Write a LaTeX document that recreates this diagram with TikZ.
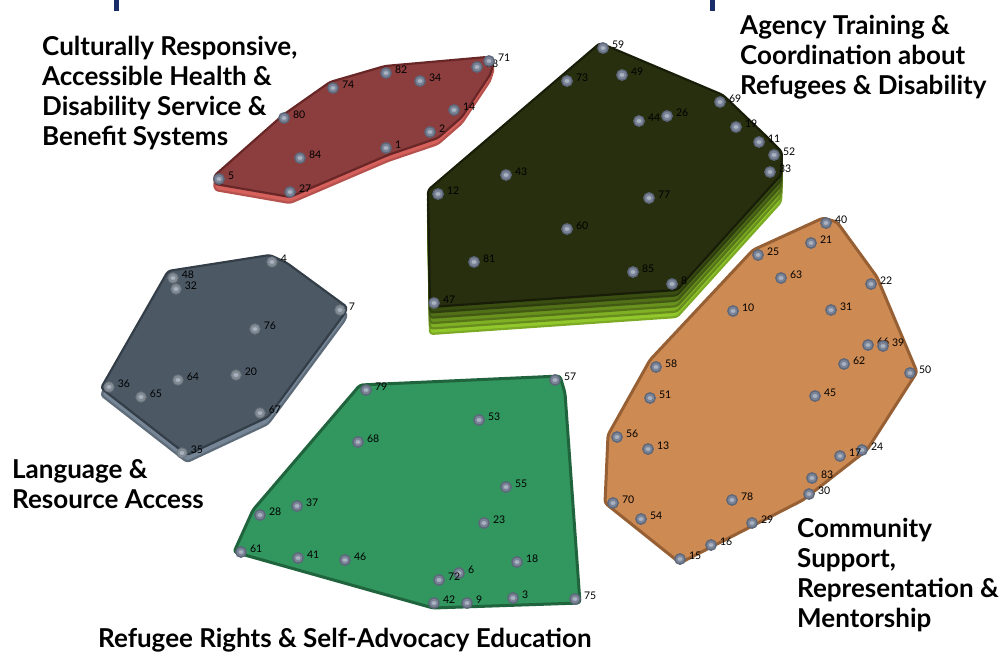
\documentclass[tikz,border=0pt]{standalone}
\usepackage{fontspec}
\setmainfont{Lato}
\definecolor{navy}{RGB}{25,45,105}
\definecolor{redface}{RGB}{140,62,62}
\definecolor{redside}{RGB}{214,96,92}
\definecolor{redline}{RGB}{105,38,38}
\definecolor{oliveface}{RGB}{40,47,14}
\definecolor{oliveline}{RGB}{24,29,8}
\definecolor{oliveA}{RGB}{58,78,18}
\definecolor{oliveB}{RGB}{82,112,24}
\definecolor{oliveC}{RGB}{106,146,30}
\definecolor{oliveD}{RGB}{128,176,36}
\definecolor{oliveE}{RGB}{146,200,44}
\definecolor{grayface}{RGB}{76,89,101}
\definecolor{grayside}{RGB}{118,134,150}
\definecolor{grayline}{RGB}{52,62,72}
\definecolor{greenface}{RGB}{50,150,95}
\definecolor{greenline}{RGB}{32,100,62}
\definecolor{orangeface}{RGB}{205,138,82}
\definecolor{orangeline}{RGB}{150,96,52}
\definecolor{dotfill}{RGB}{122,132,150}
\definecolor{dotring}{RGB}{92,102,120}
\definecolor{dotcore}{RGB}{168,178,192}
\tikzset{
  face/.style={line width=2.2pt, line join=round, rounded corners=3pt},
  dot/.style={circle, minimum size=10.5pt, inner sep=0pt, fill=dotfill, draw=dotring, line width=1.3pt,
    path picture={\fill[dotcore] (path picture bounding box.center) ellipse (2.5pt and 1.9pt);}},
  dotfaint/.style={dot, fill=grayface!70!white, draw=grayface!85!white, line width=0.8pt},
  lbl/.style={font=\fontsize{10.5}{11}\selectfont, inner sep=0.5pt, yshift=3pt},
  title/.style={font=\bfseries\fontsize{26}{30}\selectfont, align=left, inner sep=0pt, anchor=base west}
}
% a numbered statement: name, x, y
\newcommand\spot[4][dot]{\node[#1, label={[lbl]0:#2}] (p#2) at (#3,#4) {};}
\begin{document}
\begin{tikzpicture}[x=1pt, y=-1pt, label distance=2.5pt]
\useasboundingbox (0,0) rectangle (1007,656);
\fill[white] (0,0) rectangle (1007,656);

% header ticks
\fill[navy] (114,0) rectangle (119,11);
\fill[navy] (710,0) rectangle (715,11);

% ---------- shapes ----------
\def\redshape{(214,176) -- (283,115) -- (330,82) -- (385,66) -- (487,57) -- (494,62) -- (490,75) -- (462,117) -- (438,138) -- (388,155) -- (290,197) -- (215,184) -- cycle}
\def\oliveshape{(600,43) -- (723,95) -- (765,135) -- (782,152) -- (781,175) -- (677,290) -- (430,307) -- (428,190) -- cycle}
\def\grayshape{(168,271) -- (270,255) -- (287,263) -- (347,307) -- (345,313) -- (268,417) -- (187,455) -- (101,388) -- cycle}
\def\greenshape{(360,385) -- (560,376) -- (565,393) -- (580,603) -- (433,608) -- (234,552) -- (253,510) -- cycle}
\def\orangeshape{(823,218) -- (837,222) -- (877,277) -- (917,372) -- (867,450) -- (803,500) -- (680,563) -- (605,503) -- (608,435) -- (650,360) -- (753,250) -- cycle}

% red cluster: lighter side under the top face
\filldraw[face, fill=redside, draw=redside!85!black, shift={(0,6)}] \redshape;
\filldraw[face, fill=redface, draw=redline] \redshape;

% olive cluster: stacked layers
\filldraw[face, fill=oliveE, draw=oliveE!85!black, shift={(0,27)}] \oliveshape;
\filldraw[face, fill=oliveD, draw=oliveD!80!black, shift={(0,21.6)}] \oliveshape;
\filldraw[face, fill=oliveC, draw=oliveC!80!black, shift={(0,16.2)}] \oliveshape;
\filldraw[face, fill=oliveB, draw=oliveB!80!black, shift={(0,10.8)}] \oliveshape;
\filldraw[face, fill=oliveA, draw=oliveA!80!black, shift={(0,5.4)}] \oliveshape;
\filldraw[face, fill=oliveface, draw=oliveline] \oliveshape;

% gray cluster
\filldraw[face, fill=grayside, draw=grayside!80!black, shift={(0,7)}] \grayshape;
\filldraw[face, fill=grayface, draw=grayline] \grayshape;

% green cluster
\filldraw[face, line width=3pt, fill=greenface, draw=greenline] \greenshape;

% orange cluster
\filldraw[face, line width=3pt, fill=orangeface, draw=orangeline] \orangeshape;

% ---------- statements ----------
% red
\spot{38}{477}{67}
\spot{71}{489}{61}
\spot{82}{386}{73}
\spot{34}{420}{81}
\spot{74}{333}{88}
\spot{80}{284}{118}
\spot{14}{454}{110}
\spot{2}{430}{132}
\spot{1}{386}{148}
\spot{84}{300}{158}
\spot{5}{219}{179}
\spot{27}{290}{192}

% olive
\spot{59}{603}{48}
\spot{73}{567}{81}
\spot{49}{622}{75}
\spot{69}{720}{102}
\spot{44}{639}{121}
\spot{26}{667}{116}
\spot{19}{736}{127}
\spot{11}{759}{142}
\spot{52}{774}{155}
\spot{33}{770}{172}
\spot{43}{506}{175}
\spot{12}{438}{194}
\spot{77}{649}{198}
\spot{60}{567}{229}
\spot{81}{474}{262}
\spot{85}{633}{272}
\spot{8}{672}{284}
\spot{47}{434}{303}

% gray
\spot[dotfaint]{4}{272}{262}
\spot[dotfaint]{48}{173}{278}
\spot[dotfaint]{32}{176}{289}
\spot[dotfaint]{7}{340}{310}
\spot[dotfaint]{76}{255}{329}
\spot[dotfaint]{20}{236}{375}
\spot[dotfaint]{64}{178}{380}
\spot[dotfaint]{36}{109}{387}
\spot[dotfaint]{65}{141}{397}
\spot[dotfaint]{67}{260}{413}
\spot[dotfaint]{35}{182}{453}

% green
\spot{57}{555}{380}
\spot{79}{366}{390}
\spot{53}{479}{420}
\spot{68}{358}{442}
\spot{55}{506}{487}
\spot{37}{297}{506}
\spot{28}{260}{515}
\spot{23}{484}{523}
\spot{61}{241}{552}
\spot{41}{298}{558}
\spot{46}{345}{560}
\spot{18}{517}{562}
\spot{6}{459}{573}
\spot{72}{439}{580}
\spot{42}{434}{603}
\spot{9}{467}{603}
\spot{3}{513}{598}
\spot{75}{575}{599}

% orange
\spot{40}{826}{223}
\spot{21}{811}{243}
\spot{25}{758}{255}
\spot{63}{781}{278}
\spot{22}{871}{284}
\spot{10}{733}{311}
\spot{31}{831}{310}
\spot{66}{868}{345}
\spot{39}{883}{346}
\spot{58}{656}{367}
\spot{62}{844}{364}
\spot{50}{910}{373}
\spot{51}{650}{398}
\spot{45}{815}{396}
\spot{56}{617}{437}
\spot{13}{648}{449}
\spot{24}{862}{450}
\spot{17}{840}{456}
\spot{83}{812}{478}
\spot{30}{809}{494}
\spot{70}{613}{503}
\spot{78}{732}{500}
\spot{54}{641}{519}
\spot{29}{752}{523}
\spot{16}{711}{545}
\spot{15}{680}{559}

% ---------- cluster titles (anchored at the last line's baseline) ----------
\node[title] (tHealth) at (42,145) {Culturally Responsive,\\Accessible Health \&\\Disability Service \&\\Benefit Systems};
\node[title] (tAgency) at (740,94) {Agency Training \&\\Coordination about\\Refugees \& Disability};
\node[title] (tLanguage) at (12,508) {Language \&\\Resource Access};
\node[title] (tRights) at (98,647) {Refugee Rights \& Self-Advocacy Education};
\node[title] (tCommunity) at (797,627) {Community\\Support,\\Representation \&\\Mentorship};
\end{tikzpicture}
\end{document}
